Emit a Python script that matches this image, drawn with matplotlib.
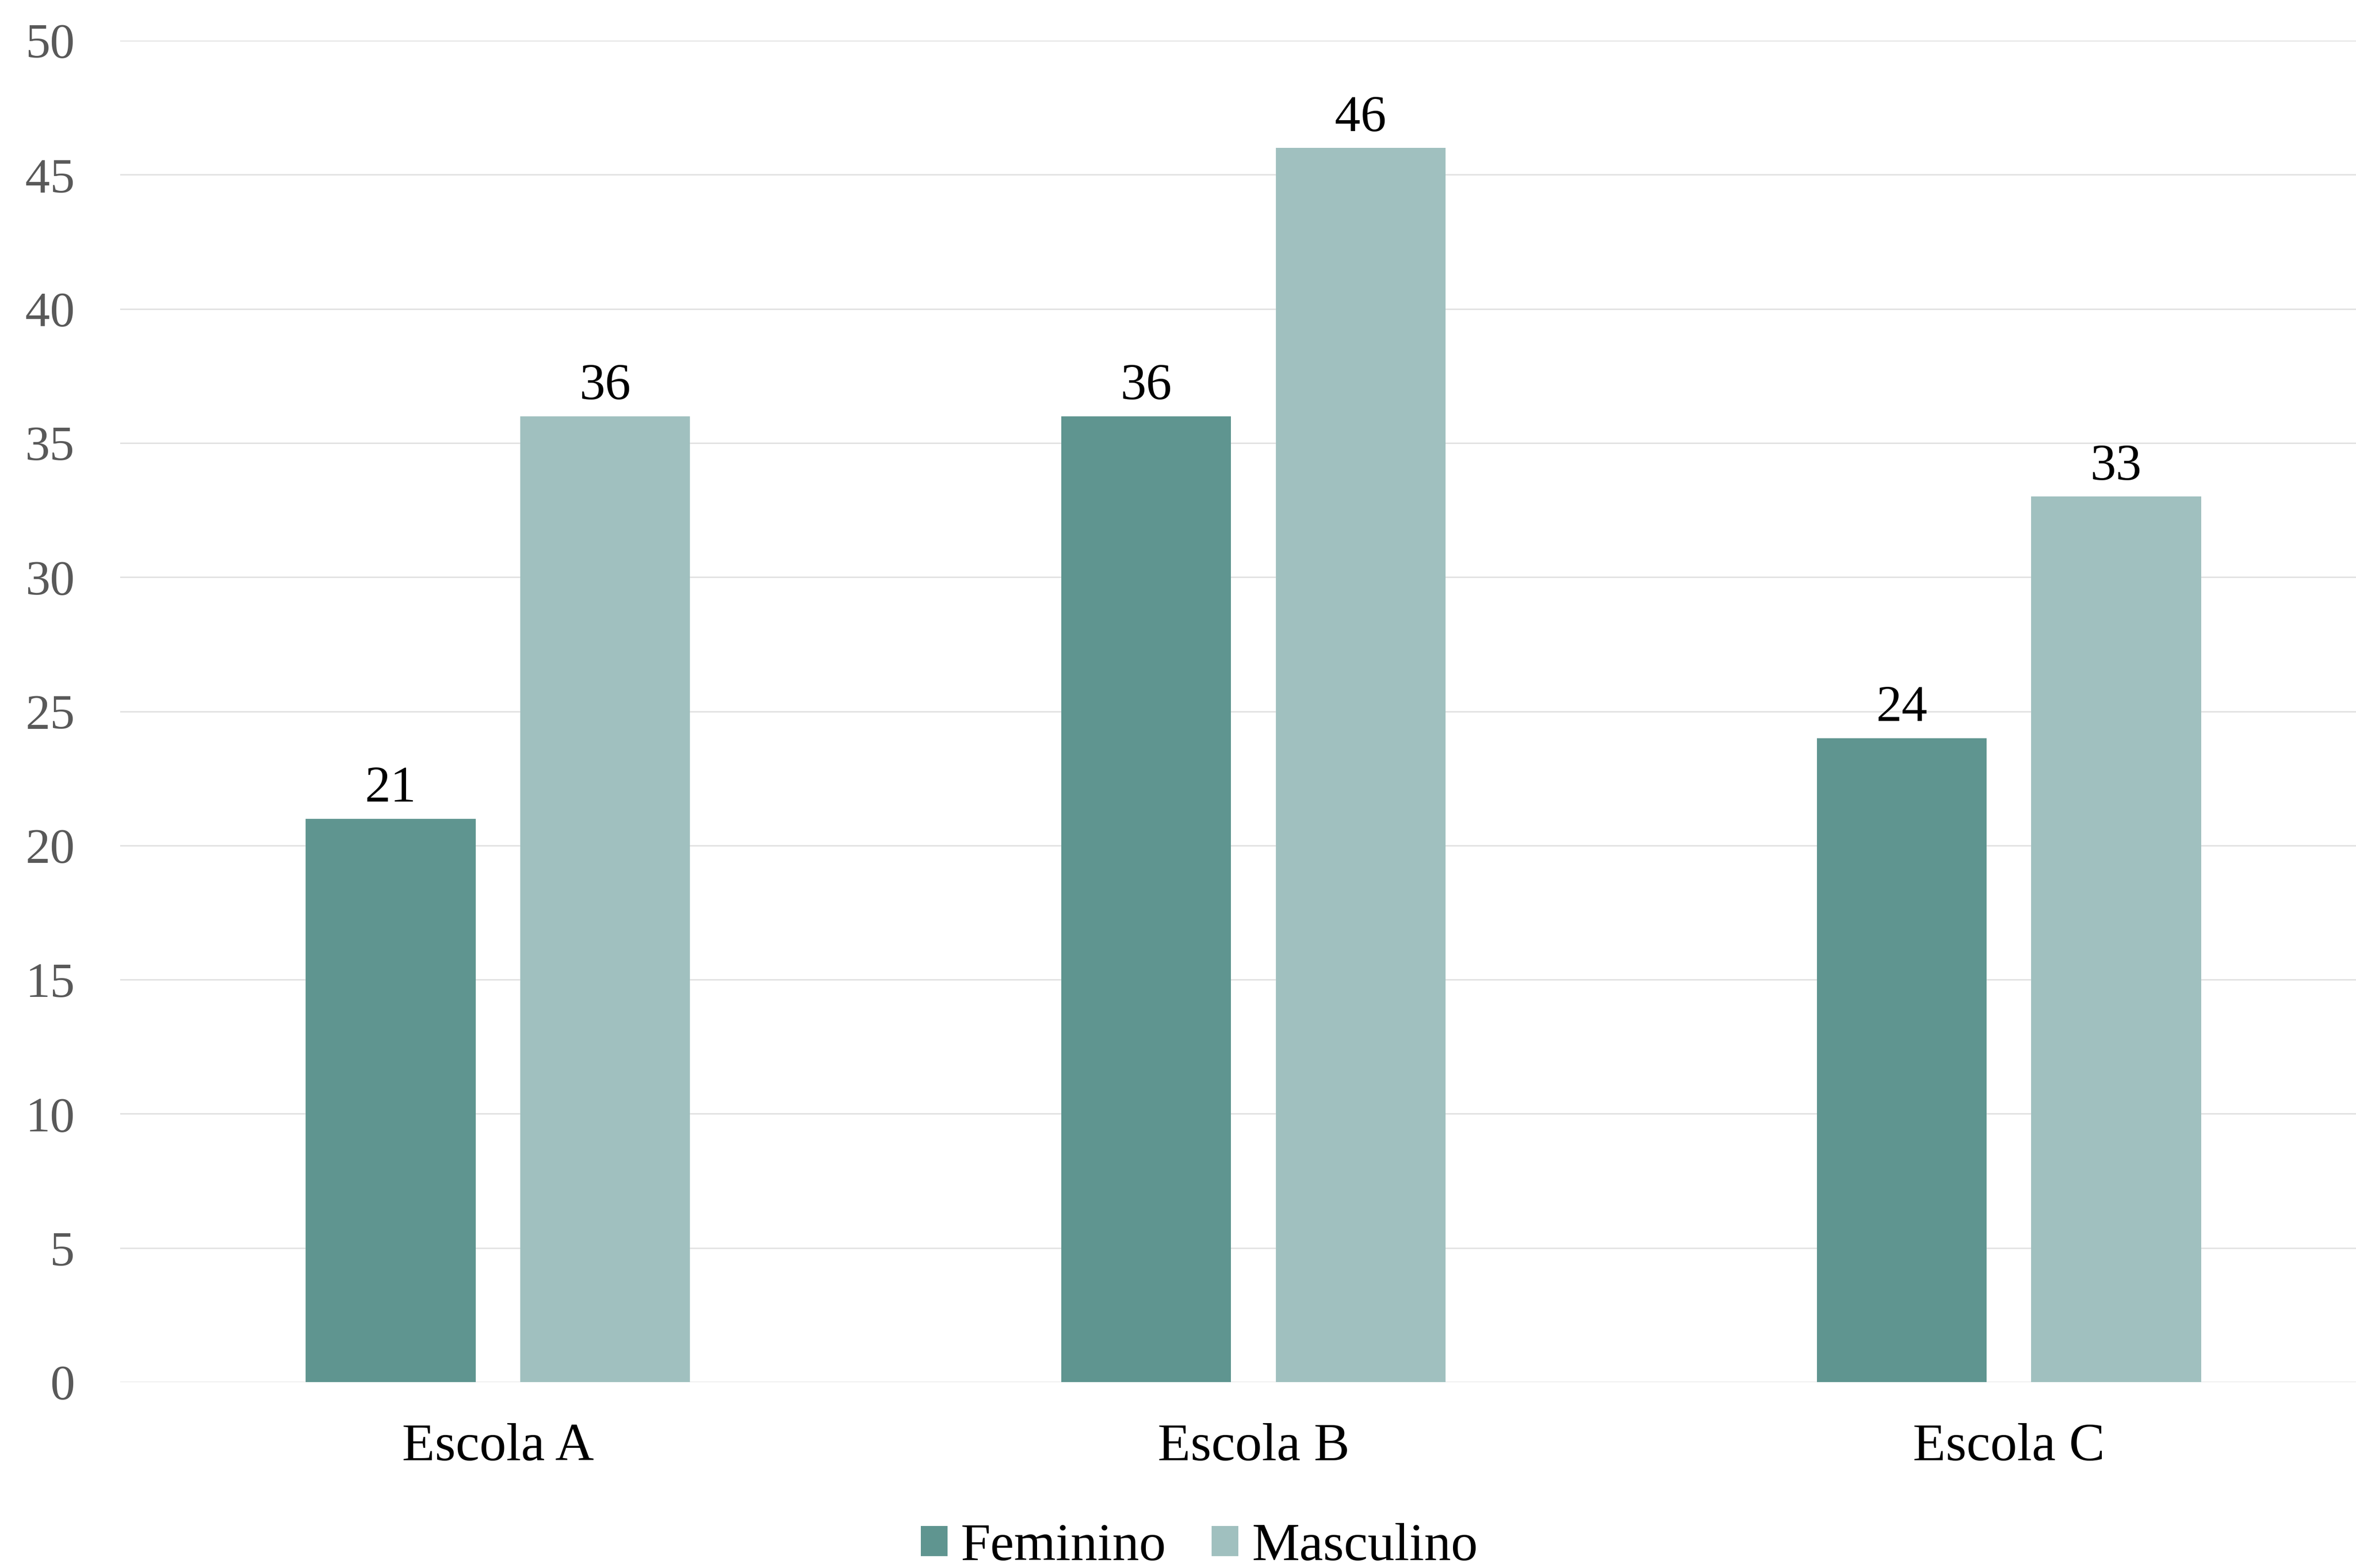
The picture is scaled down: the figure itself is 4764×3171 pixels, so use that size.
import matplotlib
matplotlib.use("Agg")
import matplotlib.pyplot as plt
import numpy as np

categories = ["Escola A", "Escola B", "Escola C"]
feminino = [21, 36, 24]
masculino = [36, 46, 33]
series_names = ["Feminino", "Masculino"]
yticks = [0, 5, 10, 15, 20, 25, 30, 35, 40, 45, 50]

col_fem = "#5f9590"
col_masc = "#a0c0bf"

plt.rcParams['font.family'] = ['Liberation Serif', 'DejaVu Serif']

fig = plt.figure(figsize=(4764/300, 3171/300), dpi=300)
ax = fig.add_axes([243/4764, 1-2795/3171, (4826-243)/4764, (2795-82)/3171])

x = np.arange(len(categories))
w = 0.2247
off = 0.142
b1 = ax.bar(x - off, feminino, w, color=col_fem, label=series_names[0], zorder=3)
b2 = ax.bar(x + off, masculino, w, color=col_masc, label=series_names[1], zorder=3)

for bars in (b1, b2):
    for r in bars:
        ax.annotate(f"{int(r.get_height())}", (r.get_x() + r.get_width()/2, r.get_height()),
                    xytext=(0, 3), textcoords="offset points", ha="center", va="bottom",
                    fontsize=25, color="black")

ax.set_xlim(-0.5, 2.5)
ax.set_ylim(0, 50)
ax.set_yticks(yticks)
ax.set_xticks(x)
ax.set_xticklabels(categories)
ax.tick_params(axis='y', length=0, pad=22, labelsize=24, labelcolor="#595959")
ax.tick_params(axis='x', length=0, pad=20, labelsize=26, labelcolor="black")
for s in ax.spines.values():
    s.set_visible(False)
ax.yaxis.grid(True, color="#e2e2e2", linewidth=0.7, zorder=0)
ax.set_axisbelow(True)

fig.legend(handles=[b1, b2], labels=series_names, loc="center",
           bbox_to_anchor=(2425/4764, 1-3129/3171), ncol=2, frameon=False,
           fontsize=26, handlelength=0.5, handleheight=0.5, handletextpad=0.25,
           columnspacing=0.85)

fig.savefig("out.png", dpi=300)
